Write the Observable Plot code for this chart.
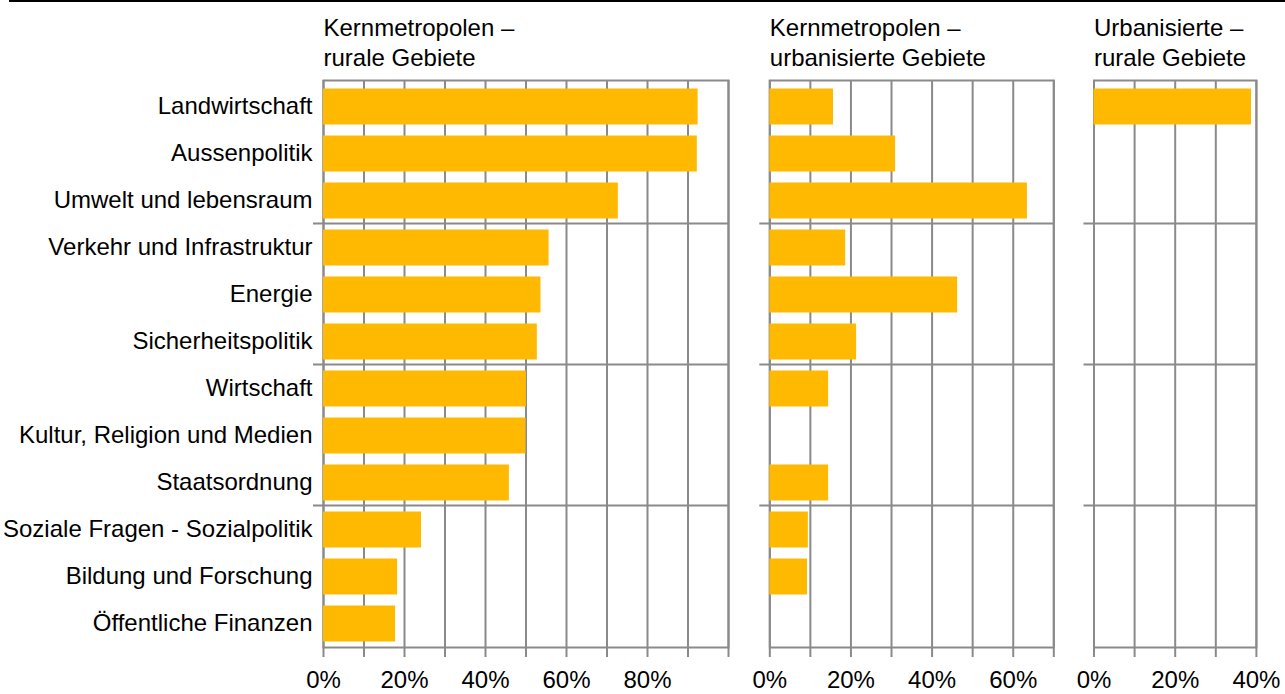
<!DOCTYPE html>
<html>
<head>
<meta charset="utf-8">
<script src="https://cdn.jsdelivr.net/npm/d3@7"></script>
<script src="https://cdn.jsdelivr.net/npm/@observablehq/plot@0.6"></script>
<style>
  html, body { margin: 0; padding: 0; background: #fff; }
  #wrap { position: relative; width: 1285px; height: 694px; overflow: hidden; }
  #topline { position: absolute; left: 9px; right: 0; top: 0; height: 2px; background: #000; }
  #panels { display: flex; }
  #panels svg { display: block; overflow: visible; }
</style>
</head>
<body>
<div id="wrap">
  <div id="panels"></div>
  <div id="topline"></div>
</div>
<script>
// ---- Data ----
const categories = [
  "Landwirtschaft",
  "Aussenpolitik",
  "Umwelt und lebensraum",
  "Verkehr und Infrastruktur",
  "Energie",
  "Sicherheitspolitik",
  "Wirtschaft",
  "Kultur, Religion und Medien",
  "Staatsordnung",
  "Soziale Fragen - Sozialpolitik",
  "Bildung und Forschung",
  "Öffentliche Finanzen"
];
const panelTitles = [
  "Kernmetropolen –\nrurale Gebiete",
  "Kernmetropolen –\nurbanisierte Gebiete",
  "Urbanisierte –\nrurale Gebiete"
];
// values in percent
const valuesKernRural = [92.5, 92.3, 72.8, 55.7, 53.7, 52.8, 50.1, 50.0, 45.9, 24.2, 18.3, 17.8];
const valuesKernUrban = [15.7, 31.0, 63.5, 18.7, 46.3, 21.4, 14.5, 0, 14.5, 9.5, 9.3, 0];
const valuesUrbRural  = [38.8, 0, 0, 0, 0, 0, 0, 0, 0, 0, 0, 0];
const domainMax = [100, 70, 40];
const gridTicks = [
  [0, 10, 20, 30, 40, 50, 60, 70, 80, 90, 100],
  [0, 10, 20, 30, 40, 50, 60, 70],
  [0, 10, 20, 30, 40]
];
const labelTicks = [
  [0, 20, 40, 60, 80],
  [0, 20, 40, 60],
  [0, 20, 40]
];
const separators = ["Verkehr und Infrastruktur", "Wirtschaft", "Soziale Fragen - Sozialpolitik"];

// ---- Layout ----
const H = 694, MT = 80, MB = 47;
const step = (H - MT - MB) / categories.length;
const layouts = [
  {width: 740, marginLeft: 323, marginRight: 12},
  {width: 325, marginLeft: 29.3, marginRight: 11.7},
  {width: 220, marginLeft: 28.5, marginRight: 29.1}
];
const allValues = [valuesKernRural, valuesKernUrban, valuesUrbRural];
const GRID = "#8a8a8a";
const BAR = "#ffb900";

const container = document.getElementById("panels");

allValues.forEach((vals, i) => {
  const data = categories.map((c, j) => ({c, v: vals[j]}));
  const lt = labelTicks[i];
  const marks = [
    Plot.gridX(gridTicks[i], {stroke: GRID, strokeOpacity: 1, strokeWidth: 2}),
    Plot.ruleY(separators, {y: d => d, dy: -step / 2, stroke: GRID, strokeWidth: 2, insetLeft: -10}),
    Plot.frame({stroke: GRID, strokeWidth: 2}),
    Plot.barX(data.filter(d => d.v > 0), {x: "v", y: "c", fill: BAR, insetTop: 6.5, insetBottom: 4.5}),
    Plot.axisX(gridTicks[i], {
      label: null,
      tickSize: 10, tickPadding: 13, stroke: GRID, strokeWidth: 2, fill: "#000",
      tickFormat: d => lt.includes(d) ? d + "%" : ""
    }),
    Plot.text([panelTitles[i]], {
      frameAnchor: "top-left", textAnchor: "start", lineAnchor: "top",
      lineHeight: 1.25, dy: -65.5, fill: "#000"
    })
  ];
  if (i === 0) {
    marks.push(Plot.axisY(categories, {label: null, tickSize: 0, tickPadding: 11, fill: "#000"}));
  }
  const chart = Plot.plot({
    width: layouts[i].width,
    height: H,
    marginTop: MT,
    marginBottom: MB,
    marginLeft: layouts[i].marginLeft,
    marginRight: layouts[i].marginRight,
    x: {domain: [0, domainMax[i]], label: null},
    y: {domain: categories, padding: 0, axis: null, label: null},
    style: {fontFamily: "'Liberation Sans', Arial, sans-serif", fontSize: "24px", color: "#000", background: "transparent"},
    marks
  });
  container.appendChild(chart);
});
</script>
</body>
</html>
